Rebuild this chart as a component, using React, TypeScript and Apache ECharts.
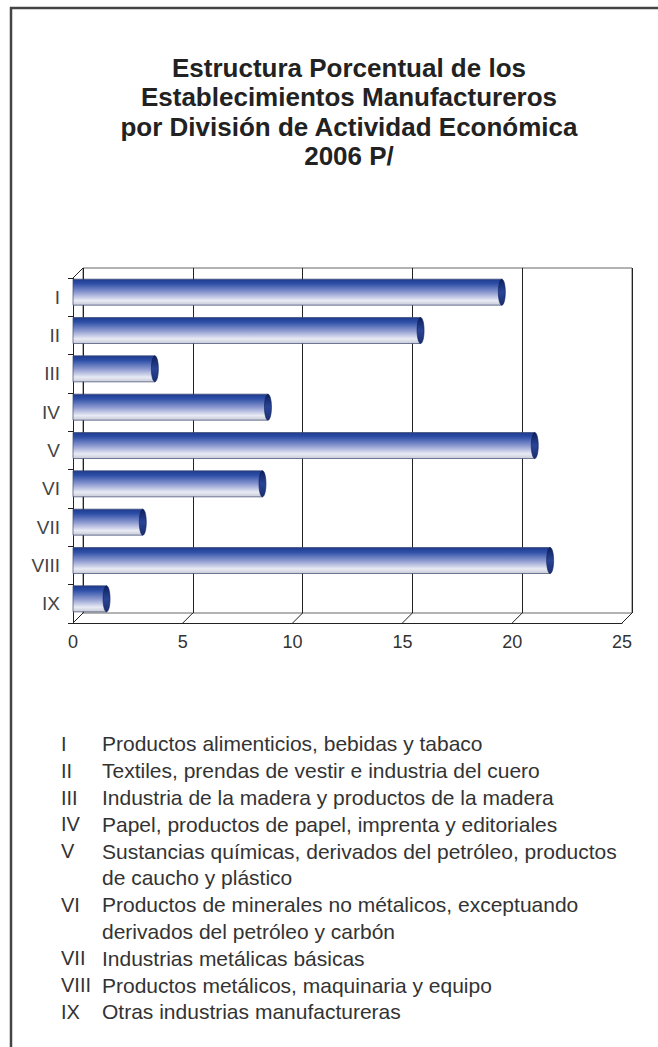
import React, { useEffect, useRef } from "react";
import * as echarts from "echarts";

const titleLines = [
  "Estructura Porcentual de los",
  "Establecimientos Manufactureros",
  "por División de Actividad Económica",
  "2006 P/",
];
const categories = ["I", "II", "III", "IV", "V", "VI", "VII", "VIII", "IX"];
const values = [19.3, 15.6, 3.5, 8.65, 20.8, 8.4, 2.95, 21.5, 1.3];
const xTicks = [0, 5, 10, 15, 20, 25];
const legendCodes = ["I", "II", "III", "IV", "V", "VI", "VII", "VIII", "IX"];
const legendTexts = [
  "Productos alimenticios, bebidas y tabaco",
  "Textiles, prendas de vestir e industria del cuero",
  "Industria de la madera y productos de la madera",
  "Papel, productos de papel, imprenta y editoriales",
  "Sustancias químicas, derivados del petróleo, productos\nde caucho y plástico",
  "Productos de minerales no métalicos, exceptuando\nderivados del petróleo y carbón",
  "Industrias metálicas básicas",
  "Productos metálicos, maquinaria y equipo",
  "Otras industrias manufactureras",
];

// layout constants
const FRONT_LEFT = 73;
const FRONT_TOP = 278;
const PLOT_W = 549;
const PLOT_H = 345;
const DEPTH = 10;
const BAR_H = 26;
const FONT = "'Liberation Sans', Arial, sans-serif";

export default function App() {
  const ref = useRef<HTMLDivElement>(null);
  useEffect(() => {
    document.body.style.margin = "0";
    const chart = echarts.init(ref.current!, null, { renderer: "svg" });

    const legendGraphics: any[] = [];
    let lineIdx = 0;
    const LEG_TOP = 744;
    const LEG_LH = 26.8;
    legendCodes.forEach((code, i) => {
      const y = LEG_TOP + lineIdx * LEG_LH;
      legendGraphics.push({
        type: "text",
        x: 61,
        y,
        style: { text: code, font: `20px ${FONT}`, fill: "#333", textVerticalAlign: "middle" },
      });
      legendGraphics.push({
        type: "text",
        x: 102,
        y: y - LEG_LH / 2,
        style: {
          text: legendTexts[i],
          font: `21px ${FONT}`,
          fill: "#333",
          lineHeight: LEG_LH,
          textVerticalAlign: "top",
        },
      });
      lineIdx += legendTexts[i].split("\n").length;
    });

    const barGrad = new echarts.graphic.LinearGradient(0, 0, 0, 1, [
      { offset: 0, color: "#1c3a8e" },
      { offset: 0.18, color: "#2f50a8" },
      { offset: 0.5, color: "#8a97cf" },
      { offset: 0.82, color: "#e8eaf4" },
      { offset: 1, color: "#c8cad6" },
    ]);
    const capGrad = new echarts.graphic.LinearGradient(0, 0, 0, 1, [
      { offset: 0, color: "#0c1f5a" },
      { offset: 0.5, color: "#2a4596" },
      { offset: 1, color: "#1a2d70" },
    ]);

    const option: any = {
      animation: false,
      backgroundColor: "#fff",
      title: {
        text: titleLines.join("\n"),
        left: 344,
        top: 48,
        textAlign: "center",
        textStyle: {
          fontFamily: FONT,
          fontSize: 26,
          fontWeight: "bold",
          color: "#222",
          lineHeight: 29.5,
        },
      },
      grid: [
        { left: FRONT_LEFT + DEPTH, top: FRONT_TOP - DEPTH, width: PLOT_W, height: PLOT_H, show: true, borderColor: "#666", borderWidth: 1, backgroundColor: "#fff" },
        { left: FRONT_LEFT, top: FRONT_TOP, width: PLOT_W, height: PLOT_H },
      ],
      xAxis: [
        { gridIndex: 0, type: "value", min: 0, max: 25, interval: 5, axisLine: { show: false }, axisTick: { show: false }, axisLabel: { show: false }, splitLine: { show: true, lineStyle: { color: "#222", width: 1 } } },
        { gridIndex: 1, type: "value", min: 0, max: 25, interval: 5, axisLine: { show: true, lineStyle: { color: "#222" } }, axisTick: { show: false }, splitLine: { show: false }, axisLabel: { show: true, fontFamily: FONT, fontSize: 18, color: "#333", margin: 10 } },
      ],
      yAxis: [
        { gridIndex: 0, type: "category", data: categories, inverse: true, show: false },
        { gridIndex: 1, type: "category", data: categories, inverse: true, axisLine: { show: true, lineStyle: { color: "#222" } }, axisTick: { show: true, length: 5, lineStyle: { color: "#222" } }, axisLabel: { fontFamily: FONT, fontSize: 19, color: "#444", margin: 13 } },
      ],
      series: [
        {
          type: "custom",
          name: "Establecimientos",
          xAxisIndex: 1,
          yAxisIndex: 1,
          data: values.map((v, i) => [v, i]),
          renderItem: (params: any, api: any) => {
            const start = api.coord([0, api.value(1)]);
            const end = api.coord([api.value(0), api.value(1)]);
            const x0 = start[0];
            const x1 = end[0] + DEPTH / 2;
            const cy = start[1] - DEPTH / 2;
            return {
              type: "group",
              children: [
                {
                  type: "rect",
                  shape: { x: x0, y: cy - BAR_H / 2, width: x1 - x0, height: BAR_H },
                  style: { fill: barGrad, stroke: "#3a4670", lineWidth: 0.7 },
                },
                {
                  type: "ellipse",
                  shape: { cx: x1, cy, rx: 3.5, ry: BAR_H / 2 },
                  style: { fill: capGrad, stroke: "#0c1f5a", lineWidth: 0.6 },
                },
              ],
            };
          },
          z: 3,
        },
        {
          type: "custom",
          xAxisIndex: 1,
          yAxisIndex: 1,
          data: xTicks.map((v) => [v]),
          renderItem: (params: any, api: any) => {
            const cs = params.coordSys;
            const x = api.coord([api.value(0), 0])[0];
            const y = cs.y + cs.height;
            return {
              type: "line",
              shape: { x1: x, y1: y, x2: x + DEPTH, y2: y - DEPTH },
              style: { stroke: "#222", lineWidth: 1 },
            };
          },
          z: 5,
        },
      ],
      graphic: [
        { type: "rect", shape: { x: 11, y: 8, width: 700, height: 1100 }, style: { fill: "none", stroke: "#444", lineWidth: 2.5 } },
        { type: "line", shape: { x1: FRONT_LEFT, y1: FRONT_TOP, x2: FRONT_LEFT + DEPTH, y2: FRONT_TOP - DEPTH }, style: { stroke: "#222", lineWidth: 1 } },
        ...legendGraphics,
      ],
    };
    chart.setOption(option);
    return () => chart.dispose();
  }, []);
  return <div ref={ref} style={{ width: 658, height: 1047 }} />;
}
